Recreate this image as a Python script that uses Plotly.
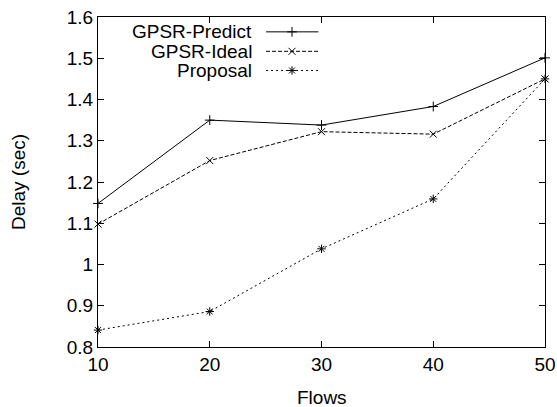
import plotly.graph_objects as go

flows = [10, 20, 30, 40, 50]
gpsr_predict = [1.148, 1.350, 1.338, 1.383, 1.501]
gpsr_ideal = [1.098, 1.252, 1.322, 1.316, 1.450]
proposal = [0.841, 0.886, 1.038, 1.159, 1.450]

names = ["GPSR-Predict", "GPSR-Ideal", "Proposal"]
series = [gpsr_predict, gpsr_ideal, proposal]
dashes = ["solid", "4px,2px", "2px,3px"]
symbols = ["cross-thin-open", "x-thin-open", "asterisk-open"]

FONT = "Liberation Sans, Arial, Helvetica, sans-serif"

fig = go.Figure()
for name, ys, d, s in zip(names, series, dashes, symbols):
    fig.add_trace(go.Scatter(
        x=flows, y=ys, mode="lines+markers", name=name,
        line=dict(color="black", width=1, dash=d),
        marker=dict(symbol=s, size=7, color="black", line=dict(color="black", width=1)),
        showlegend=False, cliponaxis=False,
    ))

# Custom legend (text right-aligned, sample on the right, like gnuplot)
leg_y = [0.955, 0.896, 0.838]
for name, d, s, ly in zip(names, dashes, symbols, leg_y):
    fig.add_trace(go.Scatter(
        x=[0.376, 0.493], y=[ly, ly], xaxis="x2", yaxis="y2", mode="lines",
        line=dict(color="black", width=1, dash=d), showlegend=False, hoverinfo="skip",
    ))
    fig.add_trace(go.Scatter(
        x=[0.434], y=[ly], xaxis="x2", yaxis="y2", mode="markers",
        marker=dict(symbol=s, size=7, color="black", line=dict(color="black", width=1)),
        showlegend=False, hoverinfo="skip",
    ))
    fig.add_annotation(x=0.348, y=ly, xref="x2", yref="y2", text=name, showarrow=False,
                       xanchor="right", yanchor="middle",
                       font=dict(family=FONT, size=19, color="black"))

fig.add_annotation(x=0.5, y=-0.152, xref="paper", yref="paper", text="Flows",
                   showarrow=False, xanchor="center", yanchor="middle",
                   font=dict(family=FONT, size=19, color="black"))
fig.add_annotation(x=-0.179, y=0.5, xref="paper", yref="paper", text="Delay (sec)",
                   showarrow=False, xanchor="center", yanchor="middle", textangle=-90,
                   font=dict(family=FONT, size=19, color="black"))

fig.update_layout(
    width=557, height=407,
    margin=dict(l=98, r=12, t=17, b=60, autoexpand=False),
    paper_bgcolor="white", plot_bgcolor="white",
    font=dict(family=FONT, size=19, color="black"),
    xaxis=dict(range=[10, 50], tickvals=flows, ticks="inside", ticklen=6,
               showgrid=False, zeroline=False, showline=True, linecolor="black",
               linewidth=1, mirror="ticks", tickcolor="black", automargin=False),
    yaxis=dict(range=[0.8, 1.6], tickvals=[0.8, 0.9, 1.0, 1.1, 1.2, 1.3, 1.4, 1.5, 1.6],
               ticktext=["0.8", "0.9", "1", "1.1", "1.2", "1.3", "1.4", "1.5", "1.6"],
               ticks="inside", ticklen=6, showgrid=False, zeroline=False, showline=True,
               linecolor="black", linewidth=1, mirror="ticks", tickcolor="black",
               automargin=False),
    xaxis2=dict(range=[0, 1], overlaying="x", visible=False, fixedrange=True),
    yaxis2=dict(range=[0, 1], overlaying="y", visible=False, fixedrange=True),
)

fig.write_html("out.html")
